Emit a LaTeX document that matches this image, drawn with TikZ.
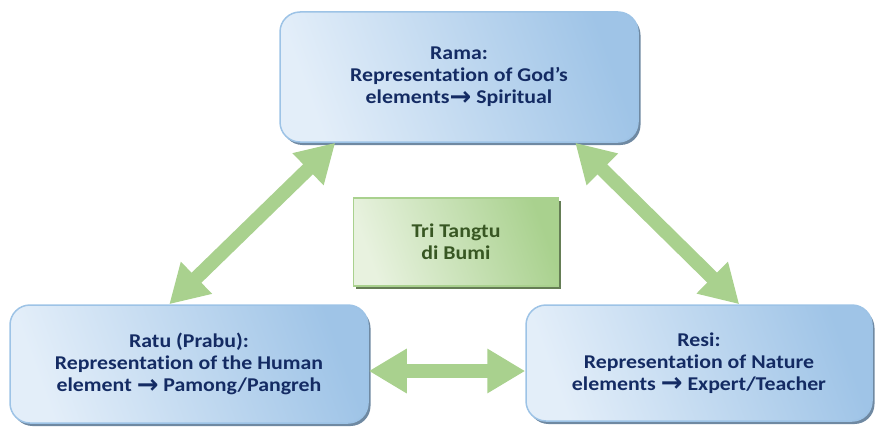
\documentclass[tikz,border=0pt]{standalone}
\usepackage{fontspec}
\setmainfont{Carlito}[Ligatures=NoCommon, FakeStretch=1.12]
\newfontfamily\arrowfont{DejaVu Sans}
\newcommand{\rarr}{\raisebox{-1.5pt}{\arrowfont\fontsize{26}{22}\selectfont →}}
\usetikzlibrary{arrows.meta,shadows,calc}
\definecolor{boxtop}{HTML}{E3EEF9}
\definecolor{boxbot}{HTML}{9FC4E7}
\definecolor{boxline}{HTML}{9DC3E6}
\definecolor{navy}{HTML}{142B63}
\definecolor{arrowgreen}{HTML}{A9D18E}
\definecolor{gtop}{HTML}{E8F2DF}
\definecolor{gbot}{HTML}{A9D18E}
\definecolor{gline}{HTML}{A9D18E}
\definecolor{darkgreen}{HTML}{385723}
\tikzset{
  txt/.style={align=center, font=\bfseries\fontsize{19.5}{22}\selectfont, inner sep=0pt},
  bluebox/.style={txt, rounded corners=20pt, draw=boxline, line width=1.5pt,
    left color=boxtop, right color=boxbot, shading angle=110, text=navy,
    drop shadow={shadow xshift=2.5pt, shadow yshift=-3pt, fill=black!30!boxbot, opacity=1}},
  greenbox/.style={txt, draw=gline, line width=1.5pt,
    left color=gtop, right color=gbot, shading angle=110, text=darkgreen,
    drop shadow={shadow xshift=2.5pt, shadow yshift=-3pt, fill=black!40!gbot, opacity=1}},
  link/.style={draw=arrowgreen, line width=14pt,
    {Triangle[length=38pt,width=42pt]}-{Triangle[length=38pt,width=42pt]}}
}
\begin{document}
\begin{tikzpicture}[x=1pt,y=-1pt]
\useasboundingbox (0,0) rectangle (875,428);
\node[bluebox, minimum width=358pt, minimum height=130pt] (rama) at (459,77)
  {Rama:\\Representation of God’s\\elements\rarr\ Spiritual};
\node[bluebox, minimum width=358pt, minimum height=118pt] (ratu) at (189,364)
  {Ratu (Prabu):\\Representation of the Human\\element \rarr\ Pamong/Pangreh};
\node[bluebox, minimum width=346pt, minimum height=116pt] (resi) at (699,363)
  {Resi:\\Representation of Nature\\elements \rarr\ Expert/Teacher};
\node[greenbox, minimum width=205pt, minimum height=88pt] (tri) at (456,242)
  {Tri Tangtu\\di Bumi};
\coordinate (r1) at ($(rama.south west)+(56,0)$);
\coordinate (r2) at ($(rama.south west)+(296,0)$);
\coordinate (p1) at ($(ratu.north west)+(160,0)$);
\coordinate (s1) at ($(resi.north west)+(214,0)$);
\coordinate (h1) at ($(ratu.east)+(0,7)$);
\coordinate (h2) at (resi.west |- h1);
\draw[link] (p1) -- (r1);
\draw[link] (r2) -- (s1);
\draw[link] (h1) -- (h2);
\end{tikzpicture}
\end{document}
